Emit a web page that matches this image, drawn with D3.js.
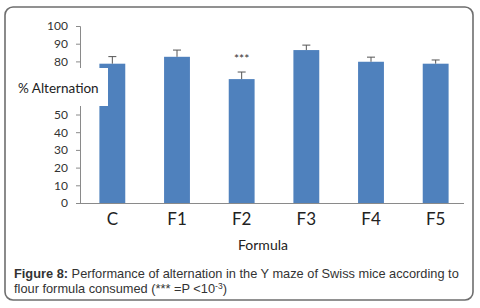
<!DOCTYPE html>
<html>
<head>
<meta charset="utf-8">
<script src="https://cdnjs.cloudflare.com/ajax/libs/d3/7.8.5/d3.min.js"></script>
<style>
  body { margin: 0; background: #fff; }
  svg { display: block; }
</style>
</head>
<body>
<div id="graphContainer"></div>
<script>
// chart data
const categories = ["C", "F1", "F2", "F3", "F4", "F5"];
const alternation = [78.7, 82.6, 70, 86.4, 79.8, 78.7];
const errors = [4, 3.8, 4, 2.8, 2.6, 2.1];
// 60 and 70 are hidden behind the axis title box in the original
const yTicks = [0, 10, 20, 30, 40, 50, 80, 90, 100];
const significance = ["", "", "***", "", "", ""];

const W = 480, H = 308;

const svg = d3.select("#graphContainer").append("svg")
    .attr("width", W)
    .attr("height", H);

// rounded frame
svg.append("rect")
    .attr("x", 5).attr("y", 7)
    .attr("width", 468).attr("height", 293)
    .attr("rx", 8)
    .attr("fill", "#fff")
    .attr("stroke", "#6e6e6e")
    .attr("stroke-width", 1.6);

const x = d3.scaleBand()
    .domain(categories)
    .range([80, 468])
    .paddingInner(0.6)
    .paddingOuter(0.3);

const y = d3.scaleLinear()
    .domain([0, 100])
    .range([203, 26]);

const chart = svg.append("g");

// y axis
const yAxis = chart.append("g")
    .attr("transform", "translate(80,0)")
    .call(d3.axisLeft(y).tickValues(yTicks).tickSize(4).tickPadding(8));
yAxis.selectAll("text")
    .style("font-family", "Lato, 'Open Sans', sans-serif")
    .style("font-size", "12px")
    .attr("fill", "#333");

// x axis
const xAxis = chart.append("g")
    .attr("transform", "translate(0,203)")
    .call(d3.axisBottom(x).tickSize(0).tickPadding(10));
xAxis.select(".domain").attr("d", "M80,0.5H464");
xAxis.selectAll("text")
    .style("font-family", "Lato, 'Open Sans', sans-serif")
    .style("font-size", "17px")
    .attr("fill", "#222");

chart.selectAll(".domain, .tick line")
    .attr("stroke", "#8a8a8a");

// bars
chart.selectAll(".bar")
    .data(categories)
    .enter()
    .append("rect")
    .attr("class", "bar")
    .attr("x", d => x(d))
    .attr("y", (d, i) => y(alternation[i]))
    .attr("width", x.bandwidth())
    .attr("height", (d, i) => y(0) - y(alternation[i]))
    .attr("fill", "#4f81bd");

// error bars (upper only)
const eb = chart.selectAll(".err")
    .data(categories)
    .enter()
    .append("g")
    .attr("class", "err")
    .attr("stroke", "#555")
    .attr("stroke-width", 1);
eb.append("line")
    .attr("x1", d => x(d) + x.bandwidth() / 2)
    .attr("x2", d => x(d) + x.bandwidth() / 2)
    .attr("y1", (d, i) => y(alternation[i]))
    .attr("y2", (d, i) => y(alternation[i] + errors[i]));
eb.append("line")
    .attr("x1", d => x(d) + x.bandwidth() / 2 - 4)
    .attr("x2", d => x(d) + x.bandwidth() / 2 + 4)
    .attr("y1", (d, i) => y(alternation[i] + errors[i]))
    .attr("y2", (d, i) => y(alternation[i] + errors[i]));

// significance stars
chart.selectAll(".sig")
    .data(categories)
    .enter()
    .append("text")
    .attr("class", "sig")
    .attr("x", d => x(d) + x.bandwidth() / 2)
    .attr("y", (d, i) => y(alternation[i] + errors[i]) - 9)
    .attr("text-anchor", "middle")
    .style("font-family", "Lato, sans-serif")
    .style("font-size", "12px")
    .attr("fill", "#333")
    .text((d, i) => significance[i]);

// y-axis title sits on a white box that covers the axis
svg.append("rect")
    .attr("x", 16).attr("y", 68)
    .attr("width", 92).attr("height", 38)
    .attr("fill", "#fff");
svg.append("text")
    .attr("x", 18).attr("y", 93)
    .style("font-family", "Lato, 'Open Sans', sans-serif")
    .style("font-size", "13.5px")
    .attr("fill", "#222")
    .text("% Alternation");

// x-axis title
svg.append("text")
    .attr("x", 263).attr("y", 250)
    .attr("text-anchor", "middle")
    .style("font-family", "Lato, 'Open Sans', sans-serif")
    .style("font-size", "14px")
    .attr("fill", "#222")
    .text("Formula");

// caption
const cap = svg.append("text")
    .style("font-family", "'Liberation Sans', Arial, sans-serif")
    .style("font-size", "12.8px")
    .attr("fill", "#333");
const l1 = cap.append("tspan").attr("x", 14).attr("y", 278);
l1.append("tspan").style("font-weight", "bold").text("Figure 8:");
l1.append("tspan").text(" Performance of alternation in the Y maze of Swiss mice according to");
const l2 = cap.append("tspan").attr("x", 14).attr("y", 293);
l2.append("tspan").text("flour formula consumed (*** =P <10");
l2.append("tspan").attr("dy", -4).style("font-size", "8.5px").text("-3");
l2.append("tspan").attr("dy", 4).text(")");
</script>
</body>
</html>
